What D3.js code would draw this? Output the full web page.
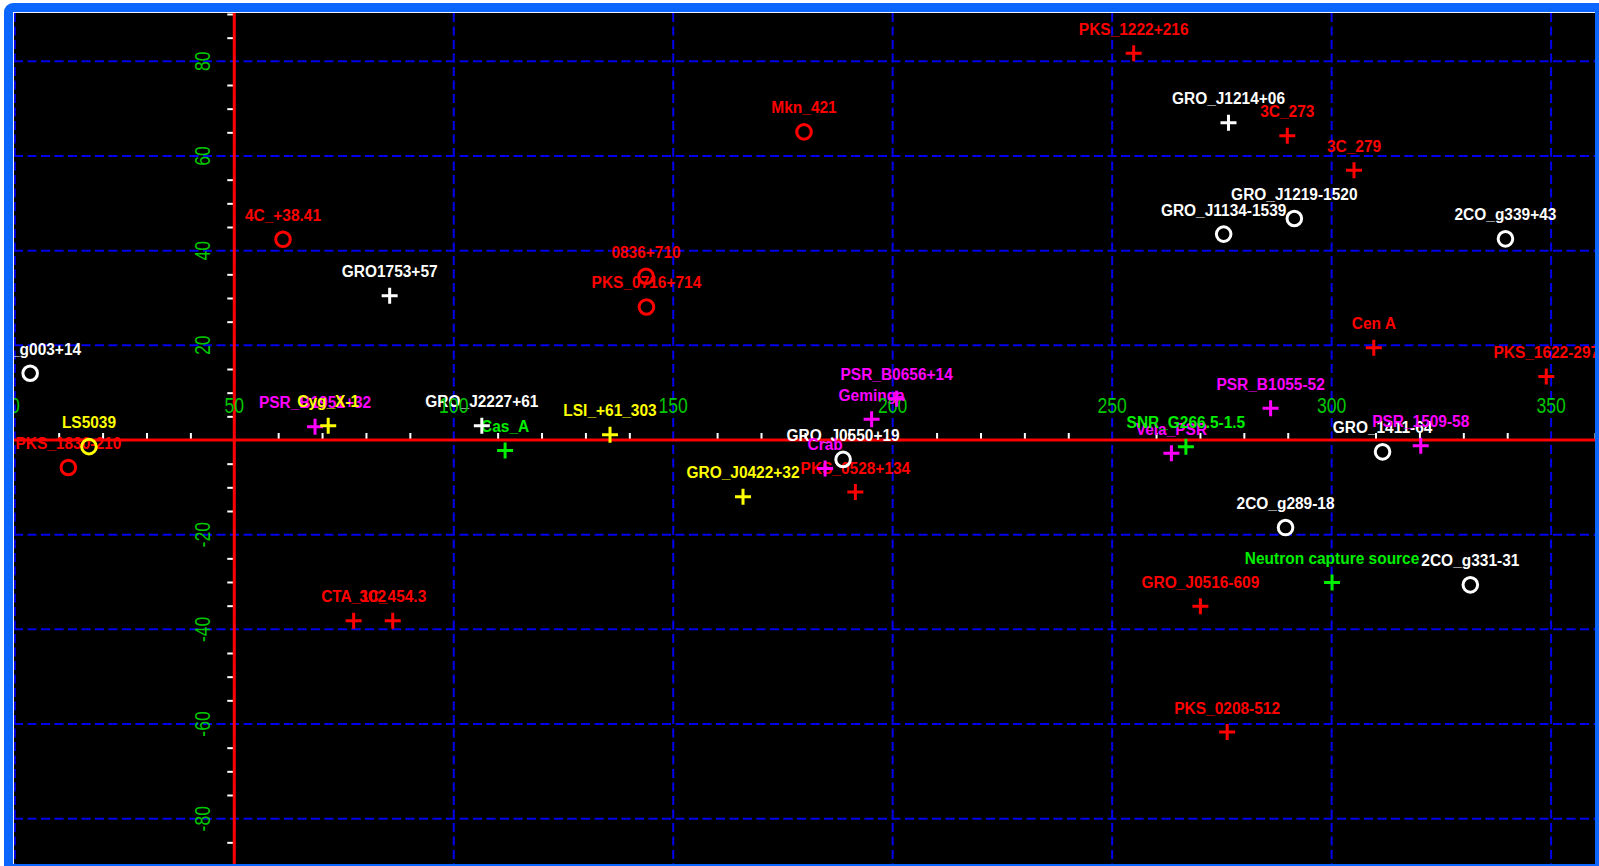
<!DOCTYPE html>
<html>
<head>
<meta charset="utf-8">
<script src="https://cdn.jsdelivr.net/npm/d3@7"></script>
<style>
  html, body { margin: 0; padding: 0; background: #fff; overflow: hidden; }
  text { font-family: "Liberation Sans", Arial, Helvetica, sans-serif; }
</style>
</head>
<body>
<div id="chart"></div>
<script>
// galactic longitude / latitude of sources
const names = [
  "2CO_g003+14", "PKS_1830-210", "LS5039", "PSR_B1951+32", "Cyg_X-1",
  "4C_+38.41", "GRO1753+57", "CTA_102", "3C_454.3", "GRO_J2227+61",
  "Cas_A", "LSI_+61_303", "GRO_J0422+32", "0836+710", "PKS_0716+714",
  "Mkn_421", "GRO_J0550+19", "Crab", "PKS_0528+134", "PSR_B0656+14",
  "Geminga", "Vela_PSR", "SNR_G266.5-1.5", "PSR_B1055-52", "Cen A",
  "PKS_1622-297", "GRO_1411-64", "PSR_1509-58", "2CO_g289-18", "Neutron capture source",
  "2CO_g331-31", "GRO_J0516-609", "PKS_0208-512", "PKS_1222+216", "GRO_J1214+06",
  "3C_273", "3C_279", "GRO_J1219-1520", "GRO_J1134-1539", "2CO_g339+43"
];
const glon = [
  3.5, 12.2, 16.9, 68.4, 71.4,
  61.1, 85.4, 77.2, 86.1, 106.4,
  111.7, 135.6, 165.9, 143.8, 143.9,
  179.8, 188.7, 184.6, 191.5, 200.9,
  195.2, 263.5, 266.8, 286.1, 309.6,
  348.9, 311.6, 320.3, 289.5, 300.1,
  331.6, 270.1, 276.2, 254.9, 276.5,
  289.9, 305.1, 291.5, 275.4, 339.6
];
const glat = [
  14.1, -5.8, -1.4, 2.8, 3.0,
  42.4, 30.5, -38.2, -38.2, 3.0,
  -2.2, 1.1, -12.0, 34.6, 28.1,
  65.1, -4.1, -6.0, -11.0, 8.7,
  4.4, -2.8, -1.4, 6.7, 19.5,
  13.4, -2.5, -1.2, -18.5, -30.1,
  -30.6, -35.1, -61.7, 81.7, 67.0,
  64.3, 57.0, 46.8, 43.5, 42.5
];
// source class and symbol
const kind = [
  "unid", "agn", "binary", "pulsar", "binary",
  "agn", "unid", "agn", "agn", "unid",
  "snr", "binary", "binary", "agn", "agn",
  "agn", "unid", "pulsar", "agn", "pulsar",
  "pulsar", "pulsar", "snr", "pulsar", "agn",
  "agn", "unid", "pulsar", "unid", "snr",
  "unid", "agn", "agn", "agn", "unid",
  "agn", "agn", "unid", "unid", "unid"
];
const sym = [
  "o", "o", "o", "+", "+",
  "o", "+", "+", "+", "+",
  "+", "+", "+", "o", "o",
  "o", "o", "+", "+", "+",
  "+", "+", "+", "+", "+",
  "+", "o", "+", "o", "+",
  "o", "+", "+", "+", "+",
  "+", "+", "o", "o", "o"
];
const xLabels = [0, 50, 100, 150, 200, 250, 300, 350];
const yLabels = [-80, -60, -40, -20, 20, 40, 60, 80];

const kindColor = { agn: "#ff0000", unid: "#ffffff", binary: "#ffff00", pulsar: "#ff00ff", snr: "#00ee00" };

const W = 1599, H = 866;
const pLeft = 14, pRight = 1595, pTop = 13, pBottom = 864;

const x = d3.scaleLinear().domain([0, 360]).range([14.8, 1595]);
const y = d3.scaleLinear().domain([-90, 90]).range([866, 14]);

const svg = d3.select("#chart").append("svg")
  .attr("width", W)
  .attr("height", H)
  .style("display", "block");

// window frame
svg.append("rect")
  .attr("x", 4).attr("y", 3)
  .attr("width", W + 20).attr("height", H + 20)
  .attr("rx", 9).attr("ry", 9)
  .attr("fill", "#0a66ff");
svg.append("rect")
  .attr("x", pLeft - 1).attr("y", pTop - 1)
  .attr("width", pRight - pLeft + 1).attr("height", pBottom - pTop + 1)
  .attr("fill", "#f4f4ff");
svg.append("rect")
  .attr("x", pLeft).attr("y", pTop)
  .attr("width", pRight - pLeft).attr("height", pBottom - pTop)
  .attr("fill", "black");

svg.append("clipPath").attr("id", "plot")
  .append("rect")
  .attr("x", pLeft).attr("y", pTop)
  .attr("width", pRight - pLeft).attr("height", pBottom - pTop);

const plot = svg.append("g").attr("clip-path", "url(#plot)");

// grid
const grid = plot.append("g")
  .attr("stroke", "#0000ee")
  .attr("stroke-width", 2)
  .attr("stroke-dasharray", "9,4.5");
grid.selectAll(".gx")
  .data(xLabels)
  .enter().append("line")
    .attr("x1", d => x(d)).attr("x2", d => x(d))
    .attr("y1", pTop).attr("y2", pBottom);
grid.selectAll(".gy")
  .data(yLabels)
  .enter().append("line")
    .attr("x1", pLeft).attr("x2", pRight)
    .attr("y1", d => y(d)).attr("y2", d => y(d));

// minor ticks
const xMinor = d3.range(0, 361, 10).filter(v => v % 50 !== 0);
const yMinor = d3.range(-90, 91, 5).filter(v => v % 20 !== 0);

plot.append("g")
  .attr("transform", `translate(0,${y(0)})`)
  .call(d3.axisTop(x).tickValues(xMinor).tickSize(7).tickFormat(""))
  .call(g => g.select(".domain").remove())
  .call(g => g.selectAll("line").attr("stroke", "#fff").attr("stroke-width", 2));

plot.append("g")
  .attr("transform", `translate(${x(50)},0)`)
  .call(d3.axisLeft(y).tickValues(yMinor).tickSize(7).tickFormat(""))
  .call(g => g.select(".domain").remove())
  .call(g => g.selectAll("line").attr("stroke", "#fff").attr("stroke-width", 2));

// red axes
plot.append("line")
  .attr("x1", pLeft).attr("x2", pRight)
  .attr("y1", y(0)).attr("y2", y(0))
  .attr("stroke", "#ff0000").attr("stroke-width", 3);
plot.append("line")
  .attr("x1", x(50)).attr("x2", x(50))
  .attr("y1", pTop).attr("y2", pBottom)
  .attr("stroke", "#ff0000").attr("stroke-width", 3);

const sources = names.map((n, i) => ({ name: n, l: glon[i], b: glat[i], kind: kind[i], sym: sym[i] }));

// source labels
plot.append("g")
  .selectAll("text")
  .data(sources)
  .enter().append("text")
    .text(d => d.name)
    .attr("transform", d => `translate(${x(d.l)},${y(d.b) - 18.5}) scale(0.91,1)`)
    .attr("fill", d => kindColor[d.kind])
    .style("text-anchor", "middle")
    .style("font-size", "17px")
    .style("font-weight", "bold");

// axis labels
plot.append("g")
  .selectAll("text")
  .data(xLabels)
  .enter().append("text")
    .text(d => d)
    .attr("transform", d => `translate(${x(d)},${y(0) - 27}) scale(0.8,1)`)
    .attr("fill", "#00c800")
    .style("text-anchor", "middle")
    .style("font-size", "22px");

plot.append("g")
  .selectAll("text")
  .data(yLabels)
  .enter().append("text")
    .text(d => d)
    .attr("transform", d => `translate(${x(50) - 24},${y(d)}) rotate(-90) scale(0.8,1)`)
    .attr("fill", "#00c800")
    .style("text-anchor", "middle")
    .style("font-size", "22px");

// markers
const marks = plot.append("g")
  .selectAll("g")
  .data(sources)
  .enter().append("g")
    .attr("transform", d => `translate(${x(d.l)},${y(d.b)})`)
    .attr("stroke", d => kindColor[d.kind])
    .attr("stroke-width", 3)
    .attr("fill", "none");

marks.filter(d => d.sym === "o").append("circle")
  .attr("r", 7.3);
marks.filter(d => d.sym === "+").append("path")
  .attr("d", "M-8,0H8M0,-8V8");
</script>
</body>
</html>
